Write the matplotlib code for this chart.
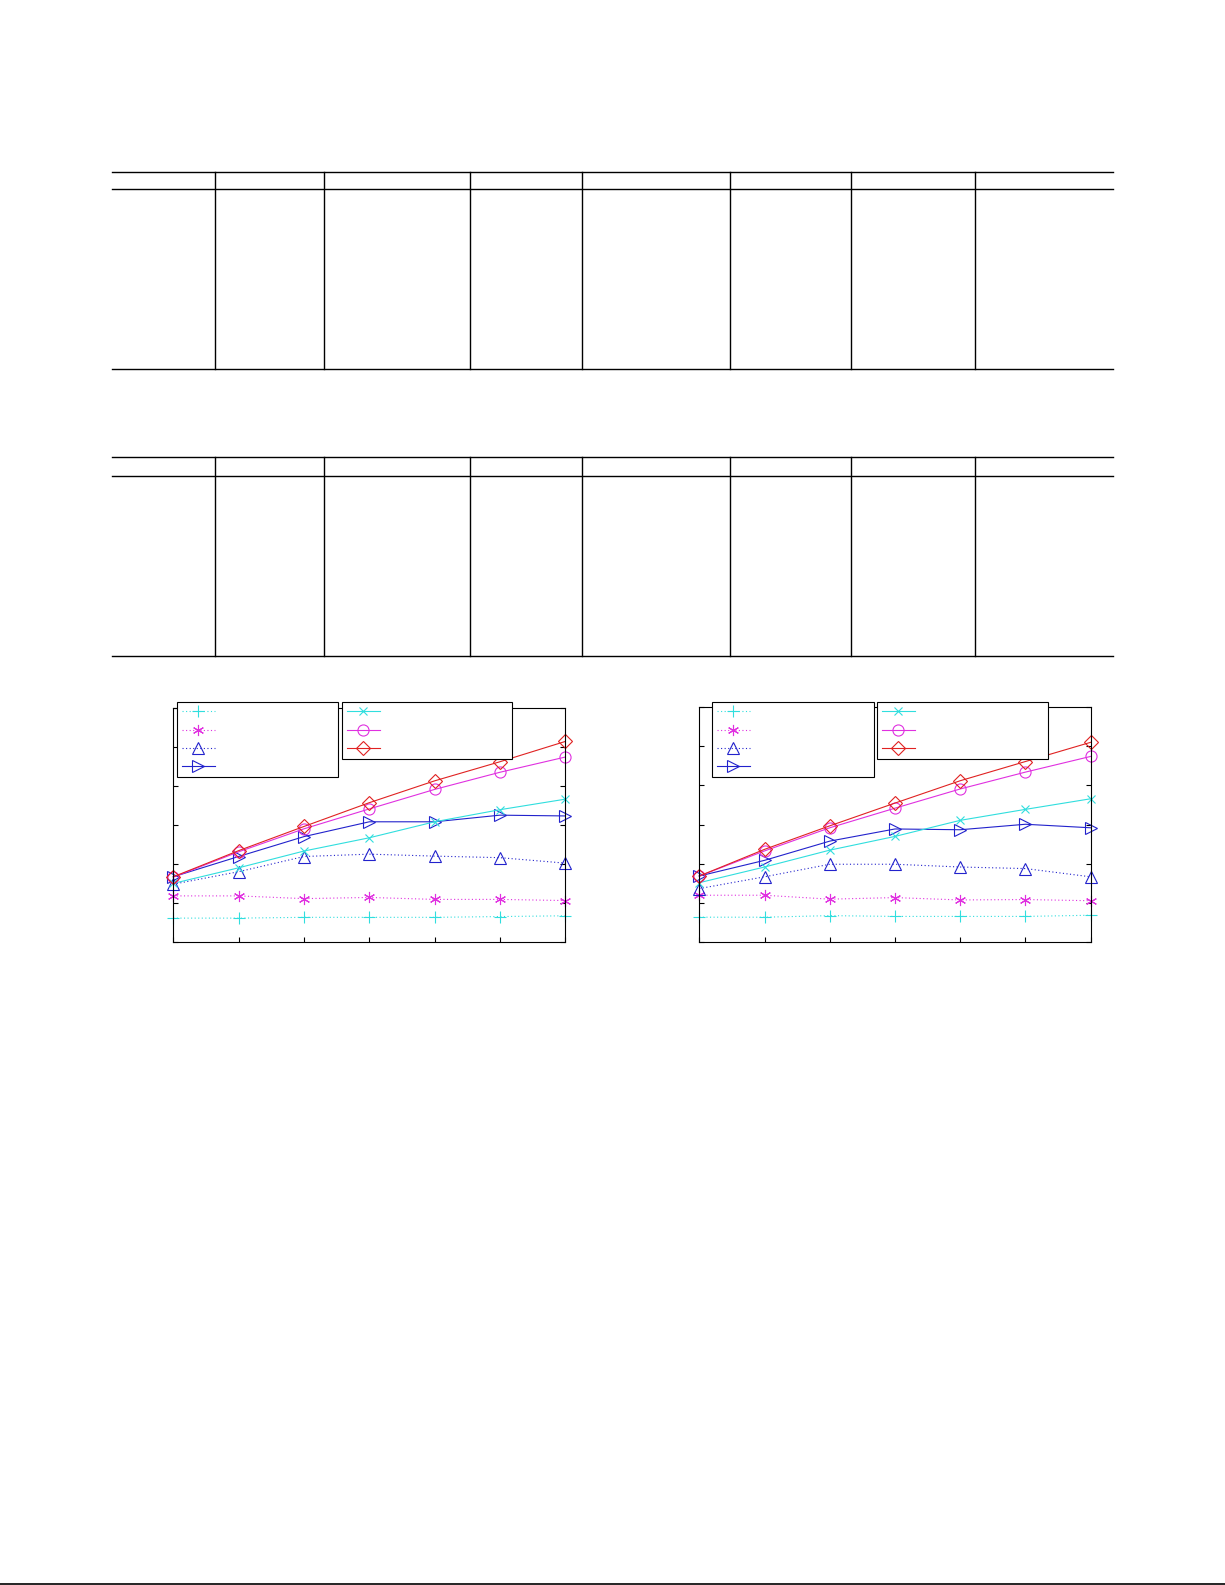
import matplotlib
matplotlib.use("Agg")
import matplotlib.pyplot as plt
from matplotlib.lines import Line2D

W, H = 1225, 1585

# x positions of the seven measurements (same for both panels)
x = [1, 2, 3, 4, 5, 6, 7]

# left panel
left_s1 = [0.62, 0.62, 0.64, 0.64, 0.64, 0.66, 0.68]
left_s2 = [1.19, 1.19, 1.12, 1.15, 1.10, 1.10, 1.07]
left_s3 = [1.49, 1.81, 2.20, 2.26, 2.21, 2.17, 2.03]
left_s4 = [1.68, 2.20, 2.71, 3.09, 3.09, 3.26, 3.24]
left_s5 = [1.51, 1.91, 2.34, 2.68, 3.09, 3.40, 3.67]
left_s6 = [1.67, 2.32, 2.91, 3.42, 3.92, 4.36, 4.75]
left_s7 = [1.68, 2.35, 2.97, 3.58, 4.14, 4.63, 5.15]

# right panel
right_s1 = [0.64, 0.64, 0.68, 0.66, 0.66, 0.66, 0.69]
right_s2 = [1.20, 1.20, 1.10, 1.14, 1.08, 1.09, 1.06]
right_s3 = [1.37, 1.67, 1.99, 1.99, 1.92, 1.88, 1.67]
right_s4 = [1.69, 2.09, 2.58, 2.89, 2.87, 3.01, 2.92]
right_s5 = [1.52, 1.92, 2.35, 2.70, 3.11, 3.39, 3.66]
right_s6 = [1.69, 2.33, 2.92, 3.42, 3.91, 4.34, 4.74]
right_s7 = [1.69, 2.37, 2.97, 3.55, 4.12, 4.61, 5.10]

cyan = '#30dede'
magenta = '#e030e0'
blue = '#2222cc'
red = '#e02222'
dots = (0, (1, 2.2))

styles = [
    dict(color=cyan, ls=dots, marker='+', ms=9),
    dict(color=magenta, ls=dots, marker=(6, 2, 0), ms=8),
    dict(color=blue, ls=dots, marker='^', ms=9),
    dict(color=blue, ls='-', marker='>', ms=9),
    dict(color=cyan, ls='-', marker='x', ms=6),
    dict(color=magenta, ls='-', marker='o', ms=8),
    dict(color=red, ls='-', marker='D', ms=7),
]

fig = plt.figure(figsize=(W / 100, H / 100), dpi=100)


def px_line(x0, y0, x1, y1, lw=1.0):
    fig.add_artist(Line2D([x0 / W, x1 / W], [1 - y0 / H, 1 - y1 / H],
                          color='black', lw=lw, transform=fig.transFigure))


# two ruled tables with empty cells
cols = [215.3, 324.3, 470.3, 581.5, 730.4, 851.4, 975.4]
for top, mid, bot in [(172.0, 189.3, 369.3), (456.7, 475.7, 655.7)]:
    for yy in (top, mid, bot):
        px_line(111.7, yy, 1112.5, yy)
    for cx in cols:
        px_line(cx, top, cx, bot)

# rule at the foot of the page
px_line(0, 1584, W, 1584, lw=1.2)


def panel(rect, series, leg1, leg2):
    l, t, r, b = rect
    ax = fig.add_axes([l / W, 1 - b / H, (r - l) / W, (b - t) / H])
    handles = []
    for ys, st in zip(series, styles):
        h, = ax.plot(x, ys, color=st['color'], ls=st['ls'], lw=0.8,
                     marker=st['marker'], ms=st['ms'], mfc='none',
                     mec=st['color'], mew=0.8, clip_on=False)
        handles.append(h)
    ax.set_xlim(1, 7)
    ax.set_ylim(0, 6)
    ax.set_xticks(x)
    ax.set_yticks(range(7))
    ax.tick_params(direction='in', length=3.3, width=0.8, left=True, right=True,
                   labelbottom=False, labelleft=False)
    for sp in ax.spines.values():
        sp.set_linewidth(0.8)
    common = dict(loc='upper left', borderaxespad=0, fancybox=False,
                  framealpha=1, edgecolor='black', numpoints=1, fontsize=8,
                  borderpad=0.45, handlelength=3.0, labelspacing=0.74)
    lg1 = ax.legend(handles[:4], [''] * 4, bbox_to_anchor=leg1[:2],
                    handletextpad=leg1[2], **common)
    lg1.get_frame().set_linewidth(0.8)
    ax.add_artist(lg1)
    lg2 = ax.legend(handles[4:], [''] * 3, bbox_to_anchor=leg2[:2],
                    handletextpad=leg2[2], **common)
    lg2.get_frame().set_linewidth(0.8)
    return ax


panel((173.3, 708.3, 565.3, 942.3),
      [left_s1, left_s2, left_s3, left_s4, left_s5, left_s6, left_s7],
      (0.0087, 1.0256, 10.65), (0.4296, 1.0256, 11.4))
panel((699.3, 707.0, 1090.7, 942.3),
      [right_s1, right_s2, right_s3, right_s4, right_s5, right_s6, right_s7],
      (0.0317, 1.020, 10.75), (0.4532, 1.020, 11.5))

fig.savefig('out.png', dpi=100)
